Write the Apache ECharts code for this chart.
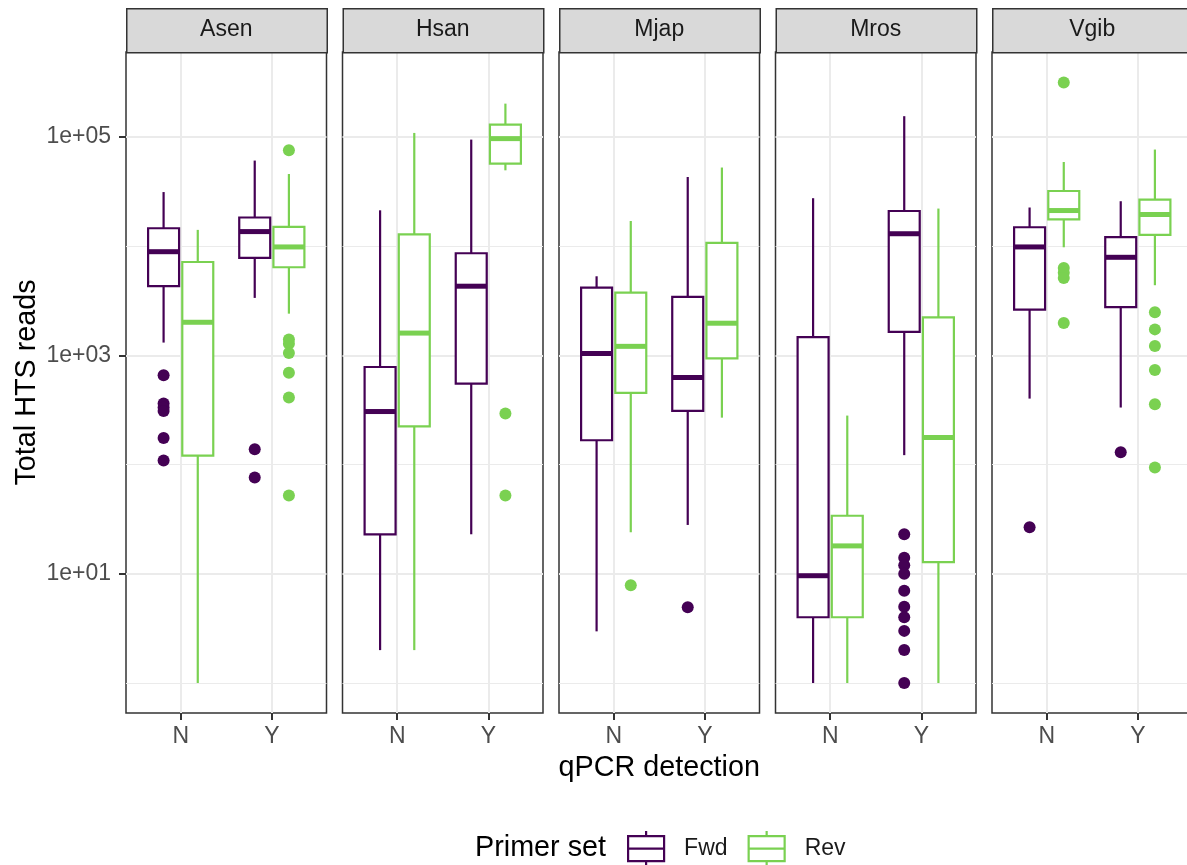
<!DOCTYPE html>
<html><head><meta charset="utf-8">
<script src="https://cdn.jsdelivr.net/npm/echarts@6/dist/echarts.min.js"></script>
<style>html,body{margin:0;padding:0;background:#fff}#c{width:1187px;height:865px}</style>
</head><body><div id="c"></div>
<script>
// ---- data ----
const panels = ['Asen', 'Hsan', 'Mjap', 'Mros', 'Vgib'];
const detections = ['N', 'Y'];
const primers = ['Fwd', 'Rev'];
const yTickValues = [10, 1000, 100000];
const yMinorValues = [1, 100, 10000];
// per panel: [N stats, Y stats]; stats = [lower whisker, Q1, median, Q3, upper whisker]
const fwdStats = [
  [[1310, 4300, 8900, 14600, 31300], [3360, 7800, 13600, 18300, 60800]],
  [[2, 23, 306, 783, 21300], [23, 552, 4300, 8610, 94600]],
  [[2.97, 167, 1040, 4180, 5300], [28, 310, 627, 3430, 43000]],
  [[1, 4, 9.6, 1470, 27500], [122, 1640, 13000, 21000, 155000]],
  [[402, 2620, 9840, 14900, 22600], [333, 2770, 7910, 12100, 25800]]
];
const revStats = [
  [[1, 121, 2010, 7160, 14100], [2410, 6410, 9840, 15000, 45800]],
  [[2, 224, 1600, 12800, 108900], [49500, 57000, 96600, 130000, 202000]],
  [[24, 453, 1210, 3760, 17000], [269, 940, 1970, 10700, 52500]],
  [[1, 4, 18, 34, 281], [1, 12.8, 177, 2230, 22100]],
  [[9770, 17600, 21200, 32000, 59000], [4390, 12700, 19500, 26700, 76700]]
];
const fwdOutliers = [
  [[658, 362, 333, 310, 175, 109], [138, 76]],
  [[], []],
  [[], [4.93]],
  [[], [23, 14, 12, 10, 7, 5, 4, 3, 2, 1]],
  [[26.7], [130]]
];
const revOutliers = [
  [[], [75500, 1400, 1280, 1050, 695, 411, 52]],
  [[], [293, 52]],
  [[7.85], []],
  [[], []],
  [[316000, 6300, 5700, 5100, 1980], [2480, 1730, 1220, 735, 357, 93.8]]
];

// ---- style / layout ----
const colors = { Fwd: '#440154', Rev: '#7AD151' };
const FONT = '"Liberation Sans", Arial, Helvetica, sans-serif';
const LAY = { left0: 126, step: 216.5, width: 200.5, top: 52, height: 661, stripTop: 8, stripH: 44 };
const Y_MIN = 0.531, Y_MAX = 600000;
const X_MIN = 0.4, X_MAX = 2.6;
const DODGE = 0.1875, BOX_W = 0.34;
const LW = 2.2, MED_LW = 5;

const statsBy = { Fwd: fwdStats, Rev: revStats };
const outBy = { Fwd: fwdOutliers, Rev: revOutliers };
const offBy = { Fwd: -DODGE, Rev: DODGE };

function makeRender(off, color) {
  return function (params, api) {
    const x = api.value(0) + off;
    const md = api.value(3);
    const lo = api.coord([x, api.value(1)]);
    const q1 = api.coord([x, api.value(2)]);
    const m = api.coord([x, md]);
    const q3 = api.coord([x, api.value(4)]);
    const hi = api.coord([x, api.value(5)]);
    const xl = api.coord([x - BOX_W / 2, md])[0];
    const xr = api.coord([x + BOX_W / 2, md])[0];
    const cx = m[0];
    return {
      type: 'group',
      children: [
        { type: 'line', shape: { x1: cx, y1: hi[1], x2: cx, y2: q3[1] }, style: { stroke: color, lineWidth: LW } },
        { type: 'line', shape: { x1: cx, y1: q1[1], x2: cx, y2: lo[1] }, style: { stroke: color, lineWidth: LW } },
        { type: 'rect', shape: { x: xl, y: q3[1], width: xr - xl, height: q1[1] - q3[1] }, style: { fill: '#fff', stroke: color, lineWidth: LW } },
        { type: 'line', shape: { x1: xl, y1: m[1], x2: xr, y2: m[1] }, style: { stroke: color, lineWidth: MED_LW } }
      ]
    };
  };
}

const grids = [], xAxes = [], yAxes = [], series = [], graphics = [];
panels.forEach((p, i) => {
  const left = LAY.left0 + i * LAY.step;
  grids.push({ left: left, top: LAY.top, width: LAY.width, height: LAY.height, show: true,
    borderColor: '#333333', borderWidth: 1.5, backgroundColor: '#fff', containLabel: false,
    outerBoundsMode: 'none' });
  xAxes.push({
    type: 'value', gridIndex: i, min: X_MIN, max: X_MAX,
    axisLine: { show: false },
    axisTick: { show: true, customValues: [1, 2], length: 7, lineStyle: { color: '#333333', width: 2 } },
    axisLabel: { customValues: [1, 2], formatter: v => detections[Math.round(v) - 1], color: '#4D4D4D',
      fontSize: 23, fontFamily: FONT, margin: 12 },
    splitLine: { show: true, lineStyle: { color: '#EBEBEB', width: 2 } },
    name: i === 2 ? 'qPCR detection' : '', nameLocation: 'middle', nameGap: 41,
    nameTextStyle: { fontSize: 28.75, fontFamily: FONT, color: '#000' }
  });
  yAxes.push({
    type: 'log', logBase: 10, gridIndex: i, min: Y_MIN, max: Y_MAX,
    axisLine: { show: false },
    axisTick: { show: i === 0, customValues: yTickValues, length: 7, lineStyle: { color: '#333333', width: 2 } },
    axisLabel: { show: i === 0, customValues: yTickValues, color: '#4D4D4D', fontSize: 23, fontFamily: FONT, margin: 15,
      formatter: v => '1e+' + String(Math.round(Math.log10(v))).padStart(2, '0') },
    splitLine: { show: true, lineStyle: { color: '#EBEBEB', width: 2 } },
    name: i === 0 ? 'Total HTS reads' : '', nameLocation: 'middle', nameGap: 84, nameRotate: 90,
    nameTextStyle: { fontSize: 28.75, fontFamily: FONT, color: '#000' }
  });
  yAxes.push({
    type: 'log', logBase: 10, gridIndex: i, min: Y_MIN, max: Y_MAX, position: 'left',
    axisLine: { show: false },
    axisTick: { show: false, customValues: yMinorValues },
    axisLabel: { show: false, customValues: yMinorValues },
    splitLine: { show: true, lineStyle: { color: '#EBEBEB', width: 1.2 } }
  });
  primers.forEach(pr => {
    const off = offBy[pr];
    series.push({
      type: 'custom', name: pr, xAxisIndex: i, yAxisIndex: 2 * i,
      itemStyle: { color: colors[pr] },
      encode: { x: 0, y: [1, 2, 3, 4, 5] },
      data: statsBy[pr][i].map((s, k) => [k + 1, ...s]),
      renderItem: makeRender(off, colors[pr]), z: 3
    });
    const pts = [];
    outBy[pr][i].forEach((arr, k) => arr.forEach(v => pts.push([k + 1 + off, v])));
    series.push({
      type: 'scatter', name: pr, xAxisIndex: i, yAxisIndex: 2 * i,
      symbolSize: 12, itemStyle: { color: colors[pr], opacity: 1 }, data: pts, z: 4,
      emphasis: { disabled: true }
    });
  });
  graphics.push({ type: 'rect', left: left, top: LAY.stripTop, z: 10,
    shape: { width: LAY.width, height: LAY.stripH },
    style: { fill: '#D9D9D9', stroke: '#333333', lineWidth: 1.5 } });
  graphics.push({ type: 'text', x: left + LAY.width / 2, y: LAY.stripTop + LAY.stripH / 2, z: 11,
    style: { text: p, fill: '#1A1A1A', font: '23px ' + FONT, align: 'center', verticalAlign: 'middle' } });
});

graphics.push({ type: 'text', x: 475, y: 848, z: 11,
  style: { text: 'Primer set', fill: '#000', font: '28.75px ' + FONT, align: 'left', verticalAlign: 'middle' } });

const legendIcon = 'path://M18,0 L18,5 M0,5 L36,5 L36,30 L0,30 Z M0,17.5 L36,17.5 M18,30 L18,35';

const option = {
  animation: false,
  backgroundColor: '#fff',
  grid: grids, xAxis: xAxes, yAxis: yAxes, series: series, graphic: graphics,
  legend: {
    left: 627, top: 830, padding: 0, orient: 'horizontal', itemWidth: 36, itemHeight: 35, itemGap: 20,
    icon: legendIcon, selectedMode: false,
    textStyle: { fontSize: 23, fontFamily: FONT, color: '#1A1A1A', padding: [0, 0, 0, 15] },
    data: primers.map(pr => ({ name: pr, icon: legendIcon,
      itemStyle: { color: 'rgba(0,0,0,0)', borderColor: colors[pr], borderWidth: 2.2 } }))
  }
};
const chart = echarts.init(document.getElementById('c'), null, { renderer: 'canvas' });
chart.setOption(option);
</script></body></html>
